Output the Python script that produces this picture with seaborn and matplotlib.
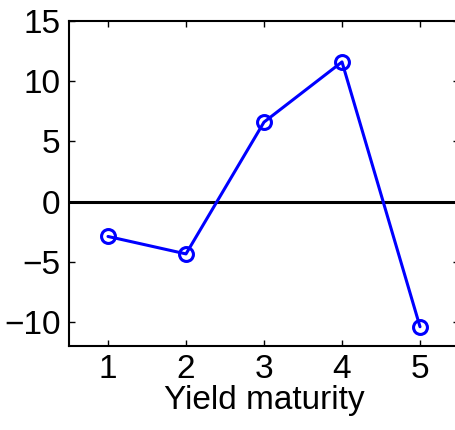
import matplotlib
matplotlib.use("Agg")
import matplotlib.pyplot as plt
import seaborn as sns
import pandas as pd

maturity = [1, 2, 3, 4, 5]
values = [-2.9, -4.35, 6.6, 11.6, -10.4]
yticks = [-10, -5, 0, 5, 10, 15]
xlabel = "Yield maturity"

sns.set_style("ticks")
plt.rcParams['font.family'] = ['Liberation Sans', 'DejaVu Sans']
plt.rcParams['axes.unicode_minus'] = True
plt.rcParams['text.color'] = 'black'
plt.rcParams['axes.labelcolor'] = 'black'
plt.rcParams['xtick.color'] = 'black'
plt.rcParams['ytick.color'] = 'black'

df = pd.DataFrame({"maturity": maturity, "value": values})

fig = plt.figure(figsize=(4.55, 4.3), dpi=100)
ax = fig.add_axes([69/455, (430-346)/430, (459-69)/455, (346-21)/430])

ax.axhline(0, color="black", lw=2.2, zorder=1)
sns.lineplot(data=df, x="maturity", y="value", ax=ax, color="#0000ff", lw=2.2,
             marker="o", markersize=10, markerfacecolor="none",
             markeredgecolor="#0000ff", markeredgewidth=2.2, zorder=3)

ax.set_xlim(0.5, 5.5)
ax.set_ylim(-12, 15)
ax.set_xticks(maturity)
ax.set_yticks(yticks)
ax.set_xticklabels([str(m) for m in maturity])
ax.set_yticklabels([f"\u2212{abs(t)}" if t < 0 else str(t) for t in yticks])
ax.set_xlabel(xlabel, fontsize=24, labelpad=0)
ax.set_ylabel("")
ax.tick_params(direction="in", length=4, width=1, labelsize=24, top=True, right=True, pad=6)
for s in ax.spines.values():
    s.set_linewidth(1.5)
    s.set_color("black")

fig.savefig("out.png", dpi=100)
